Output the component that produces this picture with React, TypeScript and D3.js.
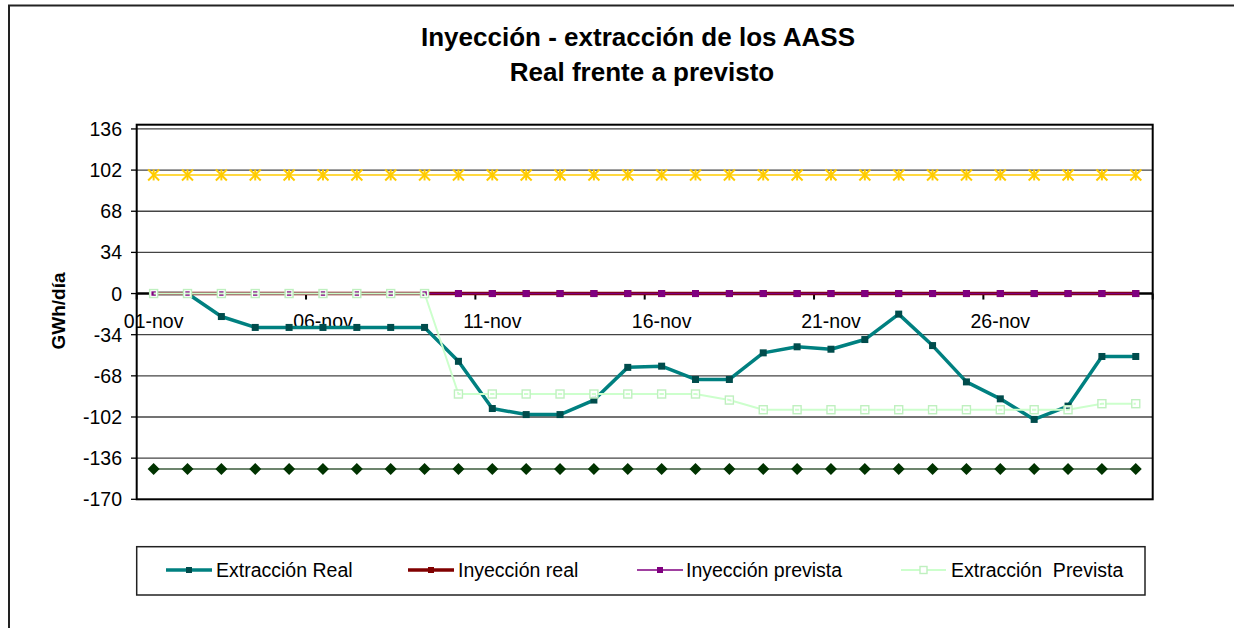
import React from 'react'
import * as d3 from 'd3'

const W = 1234
const H = 628

// categorías (días de noviembre)
const dias = [
  '01-nov', '02-nov', '03-nov', '04-nov', '05-nov', '06-nov', '07-nov', '08-nov', '09-nov', '10-nov',
  '11-nov', '12-nov', '13-nov', '14-nov', '15-nov', '16-nov', '17-nov', '18-nov', '19-nov', '20-nov',
  '21-nov', '22-nov', '23-nov', '24-nov', '25-nov', '26-nov', '27-nov', '28-nov', '29-nov', '30-nov',
]
const etiquetasX = ['01-nov', '06-nov', '11-nov', '16-nov', '21-nov', '26-nov']
const ticksY = [-170, -136, -102, -68, -34, 0, 34, 68, 102, 136]

// GWh/día
const extraccionReal = [
  0, 0, -19, -28, -28, -28, -28, -28, -28, -56,
  -95, -100, -100, -88, -61, -60, -71, -71, -49, -44,
  -46, -38, -17, -43, -73, -87, -104, -93, -52, -52,
]
const inyeccionReal = [
  0, 0, 0, 0, 0, 0, 0, 0, 0, 0,
  0, 0, 0, 0, 0, 0, 0, 0, 0, 0,
  0, 0, 0, 0, 0, 0, 0, 0, 0, 0,
]
const inyeccionPrevista = [
  0, 0, 0, 0, 0, 0, 0, 0, 0, 0,
  0, 0, 0, 0, 0, 0, 0, 0, 0, 0,
  0, 0, 0, 0, 0, 0, 0, 0, 0, 0,
]
const extraccionPrevista = [
  0, 0, 0, 0, 0, 0, 0, 0, 0, -83,
  -83, -83, -83, -83, -83, -83, -83, -88, -96, -96,
  -96, -96, -96, -96, -96, -96, -96, -96, -91, -91,
]
// límites (sin entrada en la leyenda)
const limiteInyeccion = [
  98, 98, 98, 98, 98, 98, 98, 98, 98, 98,
  98, 98, 98, 98, 98, 98, 98, 98, 98, 98,
  98, 98, 98, 98, 98, 98, 98, 98, 98, 98,
]
const limiteExtraccion = [
  -145, -145, -145, -145, -145, -145, -145, -145, -145, -145,
  -145, -145, -145, -145, -145, -145, -145, -145, -145, -145,
  -145, -145, -145, -145, -145, -145, -145, -145, -145, -145,
]

const font = '"Liberation Sans", Arial, sans-serif'

const left = 136.7
const right = 1152.7
const top = 124.7
const bottom = 499.3

const x = d3.scaleBand<string>().domain(dias).range([left, right])
const y = d3.scaleLinear().domain([-170, 139.5]).range([bottom, top])
const cx = (d: string) => (x(d) || 0) + x.bandwidth() / 2

const lineOf = (vals: number[]) =>
  d3
    .line<number>()
    .x((_, i) => cx(dias[i]))
    .y((v) => y(v))(vals) || ''

const Square = ({ px, py, s, fill, stroke }: any) => (
  <rect x={px - s / 2} y={py - s / 2} width={s} height={s} fill={fill} stroke={stroke || 'none'} />
)

const legendItems = [
  { name: 'Extracción Real', x1: 166, x2: 212, tx: 216, color: '#008080', sw: 3.5, mk: '#004c4c' },
  { name: 'Inyección real', x1: 408, x2: 454, tx: 458, color: '#800000', sw: 3.5, mk: '#800000' },
  { name: 'Inyección prevista', x1: 637, x2: 683, tx: 686, color: '#800080', sw: 1.5, mk: '#800080' },
  { name: 'Extracción  Prevista', x1: 901, x2: 946, tx: 951, color: '#ccffcc', sw: 2, mk: 'hollow' },
]

export default function App() {
  const y0 = y(0)
  const boundaries = [0, 5, 10, 15, 20, 25, 30].map((k) => left + k * x.step())

  return (
    <svg
      width={W}
      height={H}
      style={{ position: 'fixed', left: 0, top: 0, background: '#fff', fontFamily: font }}
    >
      <rect x={0} y={0} width={W} height={H} fill="#fff" />
      {/* borde exterior del gráfico */}
      <rect x={9} y={5.5} width={1400} height={800} fill="none" stroke="#222" strokeWidth={2} />

      {/* título */}
      <text x={638} y={46} textAnchor="middle" fontSize={26} fontWeight="bold" fill="#000">
        Inyección - extracción de los AASS
      </text>
      <text x={642} y={81} textAnchor="middle" fontSize={26} fontWeight="bold" fill="#000">
        Real frente a previsto
      </text>

      {/* rejilla */}
      {ticksY.map((t) => (
        <g key={t}>
          {t !== 0 && t !== -170 && (
            <line x1={left} x2={right} y1={y(t)} y2={y(t)} stroke="#444" strokeWidth={1.3} />
          )}
          <line x1={131} x2={left} y1={y(t)} y2={y(t)} stroke="#000" strokeWidth={1.3} />
          <text x={122} y={y(t)} dy="0.36em" textAnchor="end" fontSize={19.5} fill="#000">
            {t}
          </text>
        </g>
      ))}

      {/* marco del área de trazado */}
      <rect x={left} y={top} width={right - left} height={bottom - top} fill="none" stroke="#000" strokeWidth={2} />

      {/* eje X en 0 */}
      <line x1={left} x2={right} y1={y0} y2={y0} stroke="#000" strokeWidth={2.5} />
      {boundaries.map((bx, i) => (
        <line key={i} x1={bx} x2={bx} y1={y0} y2={y0 + 6} stroke="#000" strokeWidth={2} />
      ))}
      {etiquetasX.map((d) => (
        <text key={d} x={cx(d)} y={328} textAnchor="middle" fontSize={19.5} fill="#000">
          {d}
        </text>
      ))}

      {/* etiqueta eje Y */}
      <text
        transform="translate(58,311) rotate(-90)"
        textAnchor="middle"
        dy="0.35em"
        fontSize={19}
        fontWeight="bold"
        fill="#000"
      >
        GWh/día
      </text>

      {/* límite de inyección */}
      <path d={lineOf(limiteInyeccion)} fill="none" stroke="#ffcc00" strokeWidth={1.4} />
      {limiteInyeccion.map((v, i) => {
        const px = cx(dias[i])
        const py = y(v)
        const r = 5.5
        return (
          <g key={i} stroke="#ffcc00" strokeWidth={2}>
            <line x1={px - r} x2={px + r} y1={py - r} y2={py + r} />
            <line x1={px - r} x2={px + r} y1={py + r} y2={py - r} />
            <line x1={px} x2={px} y1={py - r} y2={py + r} />
          </g>
        )
      })}

      {/* límite de extracción */}
      <path d={lineOf(limiteExtraccion)} fill="none" stroke="#3d5c3d" strokeWidth={1.5} />
      {limiteExtraccion.map((v, i) => {
        const px = cx(dias[i])
        const py = y(v)
        const r = 6
        return (
          <path key={i} d={`M${px},${py - r}L${px + r},${py}L${px},${py + r}L${px - r},${py}Z`} fill="#003300" />
        )
      })}

      {/* Extracción Real */}
      <path d={lineOf(extraccionReal)} fill="none" stroke="#008080" strokeWidth={3.5} strokeLinejoin="round" />
      {extraccionReal.map((v, i) => (
        <Square key={i} px={cx(dias[i])} py={y(v)} s={7} fill="#004c4c" />
      ))}

      {/* Inyección real */}
      <path d={lineOf(inyeccionReal)} fill="none" stroke="#800000" strokeWidth={3.5} />
      {inyeccionReal.map((v, i) => (
        <Square key={i} px={cx(dias[i])} py={y(v)} s={7} fill="#800000" />
      ))}

      {/* Inyección prevista */}
      <path d={lineOf(inyeccionPrevista)} fill="none" stroke="#800080" strokeWidth={1.5} />
      {inyeccionPrevista.map((v, i) => (
        <Square key={i} px={cx(dias[i])} py={y(v)} s={7} fill="#800080" />
      ))}

      {/* Extracción Prevista */}
      <path d={lineOf(extraccionPrevista)} fill="none" stroke="#ccffcc" strokeWidth={2} />
      {extraccionPrevista.map((v, i) => {
        const px = cx(dias[i])
        const py = y(v)
        return (
          <g key={i} fill="none">
            <rect x={px - 3} y={py - 3} width={6} height={6} stroke="#fff" strokeWidth={1.6} />
            <rect x={px - 4} y={py - 4} width={8} height={8} stroke="#bff0bf" strokeWidth={1.4} />
          </g>
        )
      })}

      {/* leyenda */}
      <rect x={136.7} y={546.7} width={1145 - 136.7} height={595 - 546.7} fill="#fff" stroke="#222" strokeWidth={1.5} />
      {legendItems.map((it) => {
        const ly = 570
        const mx = (it.x1 + it.x2) / 2
        return (
          <g key={it.name}>
            <line x1={it.x1} x2={it.x2} y1={ly} y2={ly} stroke={it.color} strokeWidth={it.sw} />
            {it.mk === 'hollow' ? (
              <rect x={mx - 3.5} y={ly - 3.5} width={7} height={7} fill="#fff" stroke="#bff0bf" strokeWidth={1.4} />
            ) : (
              <Square px={mx} py={ly} s={6} fill={it.mk} />
            )}
            <text x={it.tx} y={576.5} fontSize={19.5} fill="#000" style={{ whiteSpace: 'pre' }}>
              {it.name}
            </text>
          </g>
        )
      })}
    </svg>
  )
}
